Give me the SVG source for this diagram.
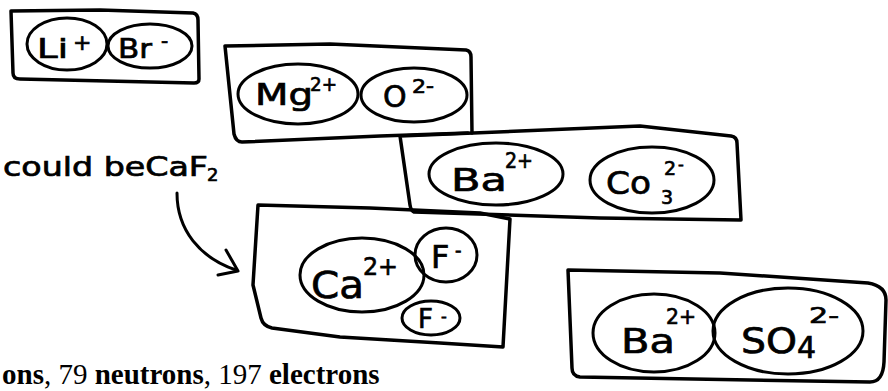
<svg xmlns="http://www.w3.org/2000/svg" width="888" height="391" viewBox="0 0 888 391">
<style>
.box{fill:none;stroke:#000;stroke-width:3.5;stroke-linejoin:round;stroke-linecap:round}
.ion{fill:none;stroke:#000;stroke-width:3}
.hw{font-family:"DejaVu Sans",sans-serif;fill:#000;stroke:#000;stroke-width:0.7}
.conn{fill:none;stroke:#000;stroke-width:3;stroke-linecap:round;stroke-linejoin:round}
.bt{font-family:"Liberation Serif","Times New Roman",serif;font-size:29px;fill:#000}
</style>
<rect width="888" height="391" fill="#fff"/>

<g id="libr">
<path class="box" d="M11,11 L100,10 L193,13 Q198,14 198,20 L199,79 Q199,83 194,83 L20,79 Q13,79 13,73 Z"/>
<g id="li"><ellipse class="ion" cx="67" cy="44" rx="40" ry="26"/>
<text class="hw" x="37" y="58" font-size="26" textLength="31" lengthAdjust="spacingAndGlyphs">Li</text>
<text class="hw" x="73" y="50" font-size="22">+</text></g>
<g id="br"><ellipse class="ion" cx="150" cy="46" rx="42" ry="22"/>
<text class="hw" x="118" y="58" font-size="26" textLength="34" lengthAdjust="spacingAndGlyphs">Br</text>
<text class="hw" x="161" y="48" font-size="20">-</text></g>
</g>

<g id="mgo">
<path class="box" d="M225,46 L330,44 L466,50 Q471,51 471,57 L472,133 M468,133 L380,136 L242,142 Q236,142 234,134 L225,46"/>
<g id="mg"><ellipse class="ion" cx="298" cy="94" rx="60" ry="30"/>
<text class="hw" x="255" y="105" font-size="30" textLength="58" lengthAdjust="spacingAndGlyphs">Mg</text>
<text class="hw" x="310" y="91" font-size="20" textLength="27" lengthAdjust="spacingAndGlyphs">2+</text></g>
<g id="o"><ellipse class="ion" cx="414" cy="95" rx="53" ry="27"/>
<text class="hw" x="383" y="107" font-size="30">O</text>
<text class="hw" x="412" y="93" font-size="19" textLength="22" lengthAdjust="spacingAndGlyphs">2-</text></g>
</g>

<g id="baco3">
<path class="box" d="M400,136 L520,131 L640,126 L731,136 Q737,137 737,143 L741,220 L600,218 L414,212 Q411,211 410,205 Z" fill="#fff"/>
<g id="ba1"><ellipse class="ion" cx="496" cy="174" rx="67" ry="31"/>
<text class="hw" x="451" y="191" font-size="32" textLength="56" lengthAdjust="spacingAndGlyphs">Ba</text>
<text class="hw" x="505" y="168" font-size="21" textLength="28" lengthAdjust="spacingAndGlyphs">2+</text></g>
<g id="co3"><ellipse class="ion" cx="652" cy="180" rx="62" ry="33"/>
<text class="hw" x="606" y="194" font-size="32" textLength="45" lengthAdjust="spacingAndGlyphs">Co</text>
<text class="hw" x="661" y="204" font-size="19">3</text>
<text class="hw" x="664" y="175" font-size="19">2</text>
<text class="hw" x="678" y="170" font-size="16">-</text></g>
</g>

<g id="caf2">
<path class="box" d="M258,205 L370,208 L480,213 L510,219 L503,347 L440,343 L340,337 L272,328 Q263,326 261,318 L253,285 Z"/>
<g id="ca"><ellipse class="ion" cx="362" cy="275" rx="62" ry="37"/>
<text class="hw" x="311" y="298" font-size="38" textLength="53" lengthAdjust="spacingAndGlyphs">Ca</text>
<text class="hw" x="363" y="275" font-size="25" textLength="35" lengthAdjust="spacingAndGlyphs">2+</text></g>
<g id="f1"><ellipse class="ion" cx="446" cy="255" rx="31" ry="27" fill="#fff"/>
<text class="hw" x="431" y="268" font-size="32">F</text>
<text class="hw" x="455" y="256" font-size="18">-</text></g>
<g id="f2"><ellipse class="ion" cx="431" cy="318" rx="29" ry="17" fill="#fff"/>
<text class="hw" x="418" y="328" font-size="26">F</text>
<text class="hw" x="441" y="322" font-size="16">-</text></g>
</g>

<g id="baso4">
<path class="box" d="M568,270 L720,273 L868,283 Q886,286 886,300 L884,362 Q883,382 870,382 L580,377 Q572,376 572,368 Z"/>
<g id="ba2"><ellipse class="ion" cx="654" cy="333" rx="61" ry="39"/>
<text class="hw" x="621" y="353" font-size="34" textLength="54" lengthAdjust="spacingAndGlyphs">Ba</text>
<text class="hw" x="666" y="324" font-size="21" textLength="30" lengthAdjust="spacingAndGlyphs">2+</text></g>
<g id="so4"><ellipse class="ion" cx="788" cy="331" rx="75" ry="43"/>
<text class="hw" x="741" y="353" font-size="36" textLength="56" lengthAdjust="spacingAndGlyphs">SO</text>
<text class="hw" x="797" y="358" font-size="30">4</text>
<text class="hw" x="809" y="323" font-size="21" textLength="30" lengthAdjust="spacingAndGlyphs">2-</text></g>
</g>

<g id="note">
<text class="hw" x="3" y="176" font-size="26" textLength="205" lengthAdjust="spacingAndGlyphs">could beCaF</text>
<text class="hw" x="207" y="181" font-size="18">2</text>
</g>

<g id="connectors">
<path class="conn" d="M177,193 C177,230 200,258 236,270"/>
<polyline class="conn" points="226,250 238,271 218,275"/>
</g>

<text class="bt" x="2" y="384"><tspan font-weight="bold">ons</tspan>, 79 <tspan font-weight="bold">neutrons</tspan>, 197 <tspan font-weight="bold">electrons</tspan></text>
</svg>
